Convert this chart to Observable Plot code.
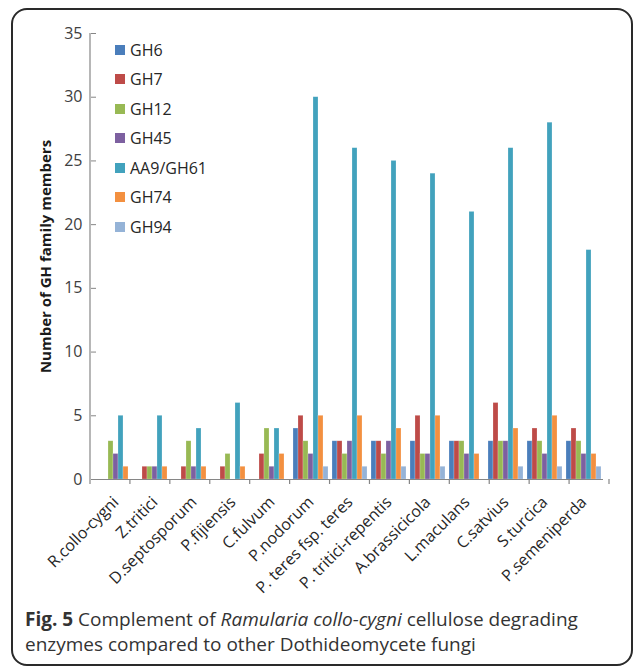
<!DOCTYPE html>
<html>
<head>
<meta charset="utf-8">
<script src="https://cdn.jsdelivr.net/npm/d3@7"></script>
<script src="https://cdn.jsdelivr.net/npm/@observablehq/plot@0.6"></script>
<style>
  html, body { margin: 0; padding: 0; background: #fff; }
  #wrap { position: relative; width: 635px; height: 670px; overflow: hidden; }
  #chart { position: absolute; left: 0; top: 0; }
  #frame { position: absolute; left: 11px; top: 8px; width: 618px; height: 654px;
           border: 2px solid #2a2a2a; border-radius: 16px; pointer-events: none; }
  #legend { position: absolute; left: 115px; top: 35px; font-family: "Open Sans", sans-serif;
            font-size: 16px; color: #262626; }
  #legend .row { height: 29.5px; display: flex; align-items: center; }
  #legend .sw { width: 10px; height: 10px; margin-right: 5px; }
  #caption { position: absolute; left: 25px; top: 607px; width: 600px; font-family: "Open Sans", sans-serif;
             font-size: 19px; line-height: 25px; color: #333; white-space: nowrap; }
  g[aria-label="y-axis label"] text { font-weight: bold; fill: #1a1a1a; }
</style>
</head>
<body>
<div id="wrap">
  <div id="chart"></div>
  <div id="legend"></div>
  <div id="caption"><b>Fig. 5</b> Complement of <i>Ramularia collo-cygni</i> cellulose degrading<br>enzymes compared to other Dothideomycete fungi</div>
  <div id="frame"></div>
</div>
<script>
const species = ["R.collo-cygni", "Z.tritici", "D.septosporum", "P.fijiensis", "C.fulvum", "P.nodorum",
  "P. teres fsp. teres", "P. tritici-repentis", "A.brassicicola", "L.maculans", "C.satvius", "S.turcica", "P.semeniperda"];
const families = ["GH6", "GH7", "GH12", "GH45", "AA9/GH61", "GH74", "GH94"];
const colors = ["#4a7ebb", "#be4b48", "#98b954", "#7d60a0", "#42a2bd", "#f39040", "#95b3d7"];

const GH6   = [0, 0, 0, 0, 0, 4, 3, 3, 3, 3, 3, 3, 3];
const GH7   = [0, 1, 1, 1, 2, 5, 3, 3, 5, 3, 6, 4, 4];
const GH12  = [3, 1, 3, 2, 4, 3, 2, 2, 2, 3, 3, 3, 3];
const GH45  = [2, 1, 1, 0, 1, 2, 3, 3, 2, 2, 3, 2, 2];
const AA9   = [5, 5, 4, 6, 4, 30, 26, 25, 24, 21, 26, 28, 18];
const GH74  = [1, 1, 1, 1, 2, 5, 5, 4, 5, 2, 4, 5, 2];
const GH94  = [0, 0, 0, 0, 0, 1, 1, 1, 1, 0, 1, 1, 1];
const yTicks = [0, 5, 10, 15, 20, 25, 30, 35];

const series = [GH6, GH7, GH12, GH45, AA9, GH74, GH94];
const data = species.flatMap((s, i) => families.map((f, j) => ({species: s, family: f, value: series[j][i]})))
  .filter(d => d.value > 0);

const chart = Plot.plot({
  width: 635,
  height: 600,
  marginLeft: 90,
  marginRight: 26,
  marginTop: 33,
  marginBottom: 121,
  style: {background: "transparent", fontFamily: "Open Sans, sans-serif", color: "#404040"},
  fx: {domain: species, paddingInner: 0, paddingOuter: 0, label: null},
  x: {domain: families, paddingInner: 0, paddingOuter: 0.25, axis: null},
  y: {domain: [0, 35], label: null},
  color: {domain: families, range: colors},
  marks: [
    Plot.barY(data, {fx: "species", x: "family", y: "value", fill: "family",
      stroke: "#ffffff", strokeOpacity: 0.35, strokeWidth: 0.6}),
    Plot.ruleY([0], {stroke: "#868686", strokeWidth: 1.2}),
    Plot.axisY({ticks: yTicks, tickSize: 5, tickPadding: 9, fontSize: 16, stroke: "#868686",
      label: "Number of GH family members", labelAnchor: "center", labelArrow: "none", labelOffset: 56}),
    Plot.axisFx({anchor: "bottom", tickRotate: -45, tickSize: 0, tickPadding: 20, fontSize: 16, label: null, fill: "#262626"})
  ]
});
document.getElementById("chart").appendChild(chart);
d3.select(chart).select('g[aria-label="y-axis label"] text').style("font-size", "15px");

// y axis line and x boundary ticks via the plot's own scales
const svg = d3.select(chart);
const fx = chart.scale("fx");
const y = chart.scale("y");
const y0 = y.apply(0), y35 = y.apply(35);
const fxScale = d3.scaleBand().domain(fx.domain).range(fx.range).paddingInner(0).paddingOuter(0);
const left = fxScale(species[0]);
svg.append("line").attr("x1", left).attr("x2", left).attr("y1", y0).attr("y2", y35)
  .attr("stroke", "#868686").attr("stroke-width", 1.2);
const bounds = species.map(s => fxScale(s)).concat([fxScale(species[species.length - 1]) + fxScale.bandwidth()]);
svg.append("g").selectAll("line").data(bounds).join("line")
  .attr("x1", d => d).attr("x2", d => d).attr("y1", y0).attr("y2", y0 + 5)
  .attr("stroke", "#868686").attr("stroke-width", 1.2);

// legend
const legend = d3.select("#legend");
families.forEach((f, i) => {
  const row = legend.append("div").attr("class", "row");
  row.append("div").attr("class", "sw").style("background", colors[i]);
  row.append("span").text(f);
});
</script>
</body>
</html>
